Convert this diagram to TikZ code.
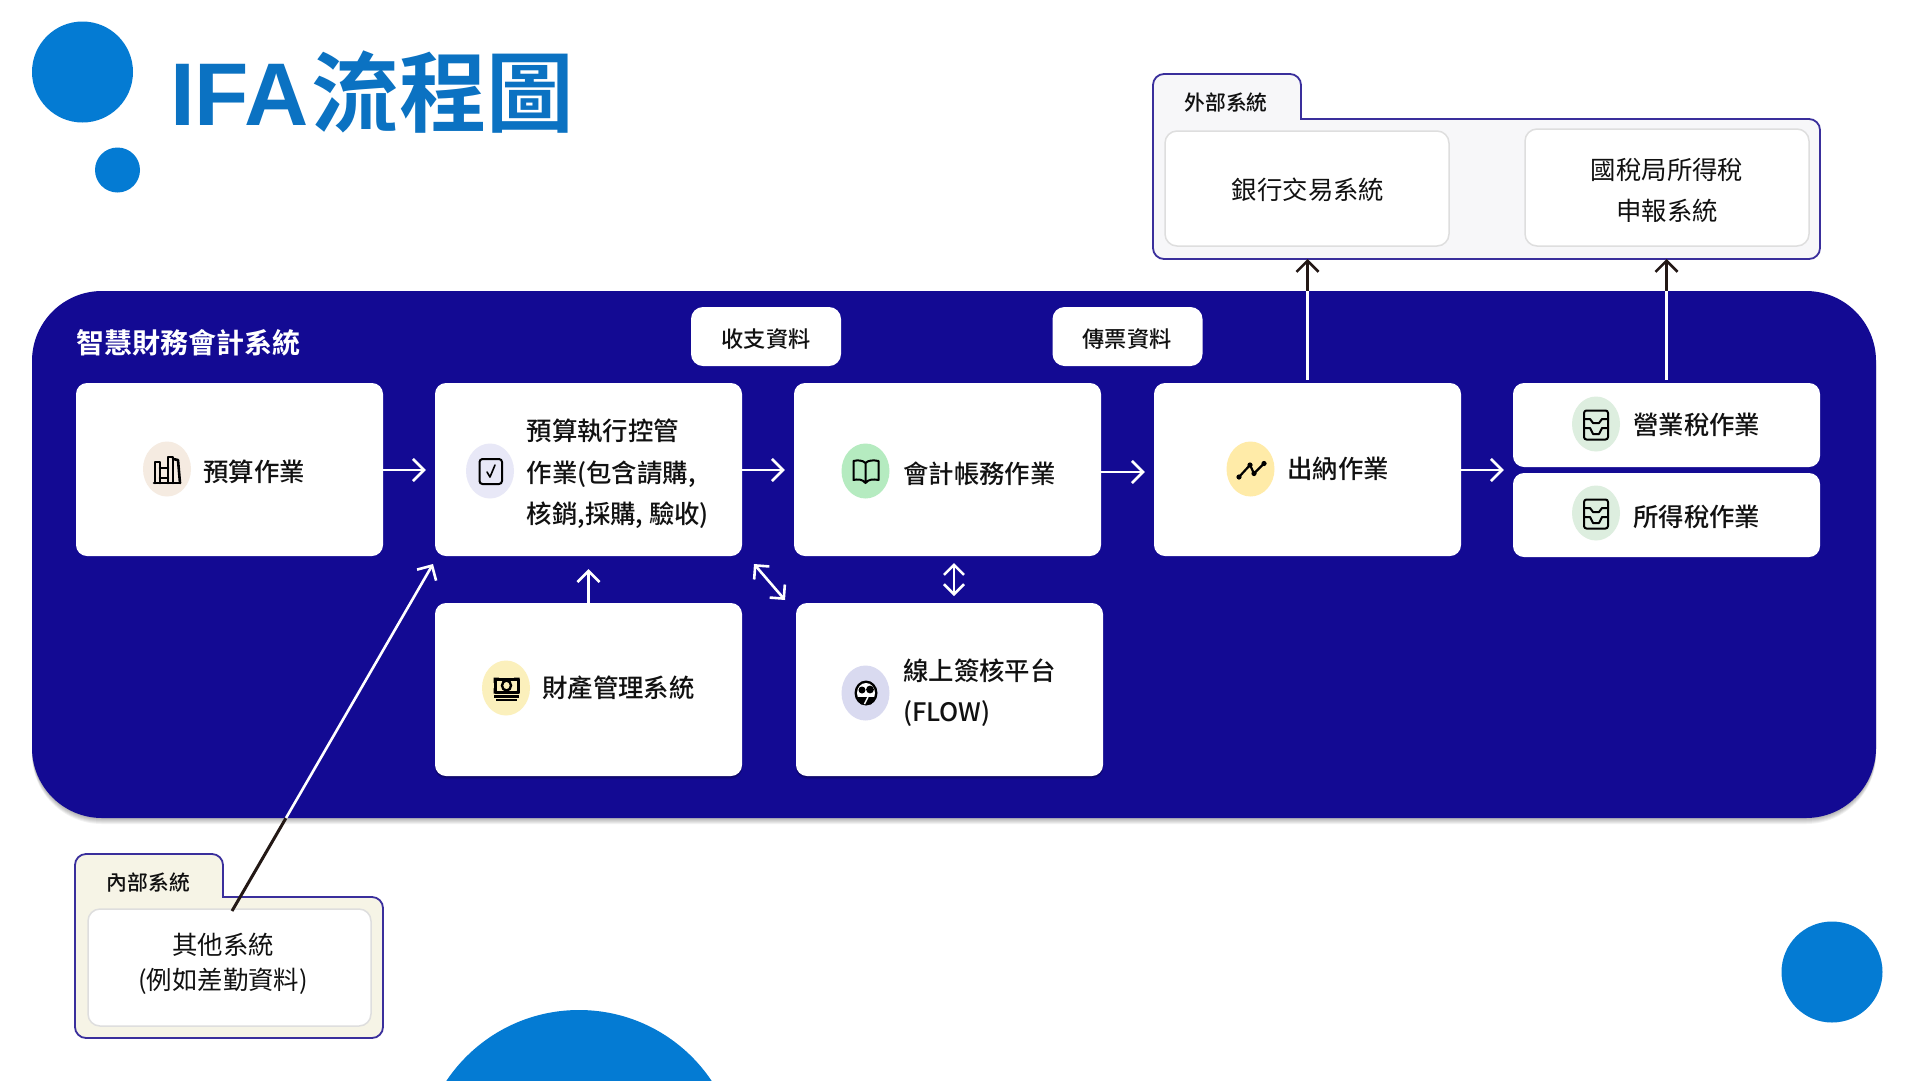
\documentclass[tikz,border=0pt]{standalone}
\usepackage{fontspec}
\setmainfont{Noto Sans CJK TC Medium}
\newfontfamily\latinbold{Liberation Sans Bold}
\newfontfamily\cjkbold{Noto Sans CJK TC Bold}
\newfontfamily\cjkreg{Noto Sans CJK TC}
\usetikzlibrary{arrows.meta,calc,shapes.geometric}
\definecolor{mainblue}{HTML}{130A93}
\definecolor{dotblue}{HTML}{047BD3}
\definecolor{titleblue}{HTML}{0B72C2}
\definecolor{foldline}{HTML}{3A2F9C}
\definecolor{inkdark}{HTML}{231815}
\definecolor{txt}{HTML}{111111}
\definecolor{bA}{HTML}{F5EBE1}
\definecolor{bB}{HTML}{E8E8F7}
\definecolor{bC}{HTML}{FBF0BC}
\definecolor{bD}{HTML}{B5EBC0}
\definecolor{bE}{HTML}{D9DAF0}
\definecolor{bF}{HTML}{FFEBA8}
\definecolor{bG}{HTML}{DDEEDF}
\definecolor{extfill}{HTML}{F7F7F9}
\definecolor{intfill}{HTML}{F6F4E6}
\tikzset{
  card/.style={draw=none,fill=white,rounded corners=11pt,inner sep=0pt,minimum width=307pt,minimum height=173pt},
  smallcard/.style={card,minimum height=84pt},
  pill/.style={draw=none,fill=white,rounded corners=12pt,inner sep=0pt,minimum width=150pt,minimum height=59pt},
  pilltext/.style={inner sep=0pt,font=\fontsize{22.2}{28}\selectfont,text=txt},
  innercard/.style={draw=black!13,line width=1.5pt,fill=white,rounded corners=12pt,inner sep=0pt},
  innertext/.style={inner sep=0pt,text=txt,align=center,font=\cjkreg\fontsize{25.4}{41}\selectfont},
  lab/.style={inner sep=0pt,anchor=west,align=left,text=txt,font=\fontsize{25.4}{41.5}\selectfont},
  tablab/.style={inner sep=0pt,text=txt,font=\fontsize{20.8}{26}\selectfont},
  badge/.style={ellipse,draw=none,inner sep=0pt,minimum width=48pt,minimum height=55pt},
  folder/.style={draw=foldline,line width=1.8pt},
  barb/.style={-{Straight Barb[length=11pt,width=22pt,line width=2.6pt]}},
  wline/.style={draw=white,line width=2.6pt},
  warr/.style={wline,barb},
  warr2/.style={wline,{Straight Barb[length=10pt,width=20pt,line width=2.6pt]}-{Straight Barb[length=10pt,width=20pt,line width=2.6pt]}},
  darr/.style={draw=inkdark,line width=3pt,barb},
  dline/.style={draw=inkdark,line width=3pt},
  ico/.style={draw=black,line width=2pt,line cap=round,line join=round},
  pics/tray/.style={code={
    \draw[ico,rounded corners=2.5pt] (-12,-13.5) rectangle (12,15.5);
    \draw[ico] (-12,-5) -- (-6,-5) -- (-3,-1) -- (3,-1) -- (6,-5) -- (12,-5);
    \draw[ico] (-12,4) -- (-6,4) -- (-3,10) -- (3,10) -- (6,4) -- (12,4);
  }},
}
\begin{document}
\begin{tikzpicture}[x=1pt,y=-1pt]
\useasboundingbox (0,0) rectangle (1920,1080);
\clip (0,0) rectangle (1920,1080);
\fill[white] (0,0) rectangle (1920,1080);
% decorative dots
\fill[dotblue] (82.5,72) circle (50.5);
\fill[dotblue] (117.5,170) circle (22.5);
\fill[dotblue] (1832,972) circle (50.5);
\fill[dotblue] (579,1169.5) circle (159.5);
% title
\node[inner sep=0pt,anchor=base west,text=titleblue] (title) at (170,125)
  {\latinbold\fontsize{89}{89}\selectfont IFA\hspace{3pt}\cjkbold\fontsize{87.5}{88}\selectfont 流程圖};
% main panel shadow
\foreach \s in {1,2,3,4,5,6}{
  \fill[black,opacity=.05,rounded corners=70pt] (32,291+\s) rectangle (1876,818+\s);
}
\node[draw=none,fill=mainblue,rounded corners=70pt,minimum width=1844pt,minimum height=527pt,inner sep=0pt] (main) at (954,554.5) {};
\node[inner sep=0pt,anchor=west,text=white,font=\fontsize{28}{34}\cjkbold] (maintitle) at (76,343) {智慧財務會計系統};
% pills
\node[pill] (p1) at (766,336.5) {};
\node[pill] (p2) at (1127.5,336.5) {};
\node[pilltext] (p1t) at (766,339) {收支資料};
\node[pilltext] (p2t) at (1127,339) {傳票資料};
% lower cards shadow
\foreach \s in {1,2,3}{
  \fill[black,opacity=.10,rounded corners=11pt] (435,603+\s) rectangle (742,776+\s);
  \fill[black,opacity=.10,rounded corners=11pt] (796,603+\s) rectangle (1103,776+\s);
}
% cards
\node[card] (n1) at (229.5,469.5) {};
\node[card] (n2) at (588.5,469.5) {};
\node[card] (n3) at (947.5,469.5) {};
\node[card] (n4) at (1307.5,469.5) {};
\node[smallcard] (n5) at (1666.5,425) {};
\node[smallcard] (n6) at (1666.5,515) {};
\node[card] (n7) at (588.5,689.5) {};
\node[card] (n8) at (949.5,689.5) {};
% badges
\node[badge,fill=bA] (b1) at (167,469) {};
\node[badge,fill=bB] (b2) at (490,471) {};
\node[badge,fill=bD] (b3) at (865.5,471) {};
\node[badge,fill=bF] (b4) at (1250.5,469) {};
\node[badge,fill=bG] (b5) at (1596,424) {};
\node[badge,fill=bG] (b6) at (1596,513) {};
\node[badge,fill=bC] (b7) at (506,688) {};
\node[badge,fill=bE] (b8) at (865.5,693) {};
% icon: books
\begin{scope}[shift={(b1.center)}]
  \draw[ico,line width=2.6pt] (-12,14) -- (-12,-7) -- (-7,-7) -- (-7,14);
  \draw[ico,line width=2.6pt] (-7,-1) -- (1,-1) (-7,9) -- (1,9);
  \draw[ico,line width=2.6pt] (1,14) -- (1,-12) -- (6,-12) -- (6,14);
  \draw[ico,line width=2.6pt] (6,-10) -- (11,-9) -- (13,14);
  \draw[ico,line width=2.6pt] (-13,14) -- (13,14);
\end{scope}
% icon: checkbox
\begin{scope}[shift={(b2.center)}]
  \draw[ico,rounded corners=3pt] (-10.5,-12) rectangle (12,13);
  \draw[ico,line width=1.6pt] (-3,1) -- (0,6) -- (5,-6);
\end{scope}
% icon: book
\begin{scope}[shift={(b3.center)}]
  \draw[ico] (0,-8) .. controls (-3,-11) and (-8,-11) .. (-12,-10) -- (-12,9) .. controls (-8,8) and (-3,8) .. (0,12)
     .. controls (3,8) and (8,8) .. (13,9) -- (13,-10) .. controls (8,-11) and (3,-11) .. (0,-8) -- (0,12);
\end{scope}
% icon: trend
\begin{scope}[shift={(b4.center)}]
  \draw[ico,line width=2.2pt] (-11.5,8) -- (-0.5,-4) -- (3.5,4.5) -- (13.5,-5.5);
  \fill (-11.5,8) circle (2.6) (-0.5,-4) circle (2.6) (3.5,4.5) circle (2.6) (13.5,-5.5) circle (2.6);
\end{scope}
% icon: trays
\pic at (b5.center) {tray};
\pic at (b6.center) {tray};
% icon: money
\begin{scope}[shift={(b7.center)}]
  \draw[black,line width=3pt,line join=round] (-11,-9) rectangle (12,4);
  \draw[black,line width=2.4pt] (0.5,-2.5) ellipse (4.5 and 5);
  \fill (-12.5,-10.5) -- (-7,-10.5) -- (-12.5,-5) -- cycle (13.5,-10.5) -- (8,-10.5) -- (13.5,-5) -- cycle
        (-12.5,5.5) -- (-7,5.5) -- (-12.5,0) -- cycle (13.5,5.5) -- (8,5.5) -- (13.5,0) -- cycle;
  \draw[black,line width=2.4pt] (-12,8.5) -- (12.5,8.5) (-10,12) -- (11,12);
\end{scope}
% icon: faces
\begin{scope}[shift={(b8.center)}]
  \fill[black] (0.5,0) ellipse (11.5 and 12.5);
  \fill[white] (0.5,0) ellipse (9 and 10);
  \fill[black] (-3.5,-3) circle (3.5) (4.5,-3.5) circle (3.9);
  \fill[black] (-8,4) -- (9,4) -- (6,11) -- (-5,11) -- cycle;
  \draw[white,line width=1.5pt] (-1,11) -- (2.5,4);
\end{scope}
% labels
\node[lab] (t1) at (203,472) {預算作業};
\node[lab] (t2) at (526.5,474) {預算執行控管\\作業(包含請購,\\核銷,採購, 驗收)};
\node[lab] (t3) at (903,474) {會計帳務作業};
\node[lab] (t4) at (1287,469) {出納作業};
\node[lab] (t5) at (1633,425) {營業稅作業};
\node[lab] (t6) at (1633,517) {所得稅作業};
\node[lab] (t7) at (542,688) {財產管理系統};
\node[lab] (t8) at (903,692.5) {線上簽核平台\\(FLOW)};
% external folder
\fill[extfill,rounded corners=11pt] (1153,259) -- (1153,74) -- (1301,74) [sharp corners] -- (1301,119) [rounded corners=11pt] -- (1820,119) -- (1820,259) -- cycle;
\draw[folder,rounded corners=11pt] (1153,259) -- (1153,74) -- (1301,74) [sharp corners] -- (1301,119) [rounded corners=11pt] -- (1820,119) -- (1820,259) -- cycle;
\node[tablab] (exttab) at (1226,103) {外部系統};
\node[innercard,minimum width=284pt,minimum height=115pt] (bank) at (1307,188.5) {};
\node[innercard,minimum width=284pt,minimum height=117pt] (nta) at (1667,187.5) {};
\node[innertext] (bankt) at (1308,190) {銀行交易系統};
\node[innertext] (ntat) at (1667,190) {國稅局所得稅\\申報系統};
\coordinate (extA) at (n4.north |- 0,259);
\coordinate (extB) at (n6.north |- 0,259);
% internal folder
\fill[intfill,rounded corners=11pt] (75,1038) -- (75,854) -- (223,854) [sharp corners] -- (223,897) [rounded corners=11pt] -- (383,897) -- (383,1038) -- cycle;
\draw[folder,rounded corners=11pt] (75,1038) -- (75,854) -- (223,854) [sharp corners] -- (223,897) [rounded corners=11pt] -- (383,897) -- (383,1038) -- cycle;
\node[tablab] (inttab) at (148.5,883) {內部系統};
\node[innercard,minimum width=283pt,minimum height=117pt] (other) at (229.5,967.5) {};
\node[innertext,font=\cjkreg\fontsize{25.4}{35}\selectfont] (othert) at (223,964) {其他系統\\(例如差勤資料)};
% connectors within panel
\draw[warr,shorten >=9pt] (n1.east |- 0,470) -- (n2.west |- 0,470);
\draw[warr,shorten >=9pt] (n2.east |- 0,470) -- (n3.west |- 0,470);
\draw[warr,shorten >=9pt] (n3.east |- 0,472) -- (n4.west |- 0,472);
\coordinate (taxin) at (n5.west |- 0,470);
\draw[warr,shorten >=9pt] (n4.east |- 0,470) -- (taxin);
\draw[warr,shorten >=13pt] (n7.north) -- (n2.south);
\coordinate (dA) at (954,563); \coordinate (dB) at (954,596);
\draw[warr2] (dA) -- (dB);
\coordinate (eA) at (754,564); \coordinate (eB) at (785,600);
\draw[warr2] (eA) -- (eB);
% connectors crossing the panel edge
\coordinate (cA) at (n4.north |- main.north);
\draw[wline,shorten <=3pt] (n4.north) -- (cA);
\draw[darr] (cA) -- (extA);
\coordinate (cB) at (extB |- main.north);
\draw[wline,shorten <=3pt] (n5.north) -- (cB);
\draw[darr] (cB) -- (extB);
\coordinate (iA) at (232,911); \coordinate (iB) at (433,564); \coordinate (iC) at (286,818);
\draw[dline] (iA) -- (iC);
\draw[warr] (iC) -- (iB);
\end{tikzpicture}
\end{document}
